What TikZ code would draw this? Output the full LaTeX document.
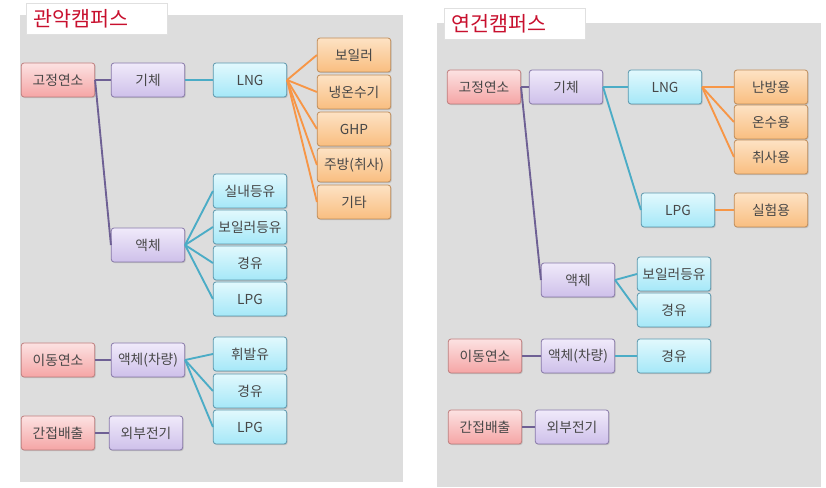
\documentclass[tikz,border=0pt]{standalone}
\usepackage{fontspec}
\setmainfont{Noto Sans CJK KR}
\usepackage{tikz}
\usetikzlibrary{shadows}
\usetikzlibrary{shapes}

\definecolor{panelgray}{RGB}{221,221,221}
\definecolor{titlered}{RGB}{200,16,46}
\definecolor{redtop}{RGB}{252,226,226}
\definecolor{redbot}{RGB}{245,165,165}
\definecolor{redline}{RGB}{190,125,125}
\definecolor{purpletop}{RGB}{240,234,250}
\definecolor{purplebot}{RGB}{206,192,234}
\definecolor{purpleline}{RGB}{135,120,168}
\definecolor{bluetop}{RGB}{226,249,253}
\definecolor{bluebot}{RGB}{165,232,248}
\definecolor{blueline}{RGB}{90,150,172}
\definecolor{orangetop}{RGB}{253,226,196}
\definecolor{orangebot}{RGB}{249,190,128}
\definecolor{orangeline}{RGB}{190,140,90}
\definecolor{purplewire}{RGB}{110,96,148}
\definecolor{bluewire}{RGB}{75,172,198}
\definecolor{orangewire}{RGB}{247,150,70}

\tikzstyle{box}=[rectangle,rounded corners=2pt,draw,line width=0.6pt,minimum width=55pt,minimum height=25.5pt,inner sep=0pt,font=\fontsize{10.3}{12}\selectfont,text=black!72,drop shadow={opacity=0.3,shadow xshift=0.8pt,shadow yshift=-0.8pt}]
\tikzstyle{redbox}=[box,draw=redline,top color=redtop,bottom color=redbot]
\tikzstyle{purplebox}=[box,draw=purpleline,top color=purpletop,bottom color=purplebot]
\tikzstyle{bluebox}=[box,draw=blueline,top color=bluetop,bottom color=bluebot]
\tikzstyle{orangebox}=[box,draw=orangeline,top color=orangetop,bottom color=orangebot]
\tikzstyle{titlebox}=[rectangle,fill=white,draw=black!12,minimum height=23.5pt,text width=96pt,inner xsep=5pt,align=left,text=titlered,font=\fontsize{15.5}{17}\selectfont]
\tikzstyle{purpleedge} = [draw,line width=1.4pt,purplewire]
\tikzstyle{blueedge} = [draw,line width=1.4pt,bluewire]
\tikzstyle{orangeedge} = [draw,line width=1.4pt,orangewire]

\begin{document}
\begin{tikzpicture}[x=0.75pt,y=-0.75pt]

  \useasboundingbox (0,0) rectangle (826,488);

  % panels
  \fill[panelgray] (20,15) rectangle (403,482);
  \fill[panelgray] (437,23) rectangle (821,487);
  \node[titlebox] (Ktitle) at (97,18.5) {관악캠퍼스};
  \node[titlebox] (Ytitle) at (515,24) {연건캠퍼스};

  % left campus
  \foreach \x/\y/\name/\label in {58/80/Kfix/고정연소, 58/360/Kmob/이동연소, 58/433/Kind/간접배출}
          \node[redbox] (\name) at (\x,\y) {\label};

  \foreach \x/\y/\name/\label in {148/80/Kgas/기체, 148/245/Kliq/액체, 148/360/Kcar/액체(차량), 146/433/Kelec/외부전기}
          \node[purplebox] (\name) at (\x,\y) {\label};

  \foreach \x/\y/\name/\label in {250/80/Klng/LNG, 250/191/Kker/실내등유, 250/227/Kbker/보일러등유, 250/263/Kdie/경유, 250/299/Klpg/LPG, 250/354/Kgaso/휘발유, 250/391/Kcdie/경유, 250/427/Kclpg/LPG}
          \node[bluebox] (\name) at (\x,\y) {\label};

  \foreach \x/\y/\name/\label in {354/55/Kboil/보일러, 354/92/Kchil/냉온수기, 354/129/Kghp/GHP, 354/165/Kkit/주방(취사), 354/202/Ketc/기타}
          \node[orangebox] (\name) at (\x,\y) {\label};

  % right campus
  \foreach \x/\y/\name/\label in {484/87/Yfix/고정연소, 485/356/Ymob/이동연소, 485/427/Yind/간접배출}
          \node[redbox] (\name) at (\x,\y) {\label};

  \foreach \x/\y/\name/\label in {566/87/Ygas/기체, 578/280/Yliq/액체, 578/356/Ycar/액체(차량), 572/427/Yelec/외부전기}
          \node[purplebox] (\name) at (\x,\y) {\label};

  \foreach \x/\y/\name/\label in {665/87/Ylng/LNG, 678/210/Ylpg/LPG, 674/274/Ybker/보일러등유, 674/310/Ydie/경유, 674/356/Ycdie/경유}
          \node[bluebox] (\name) at (\x,\y) {\label};

  \foreach \x/\y/\name/\label in {771/87/Yheat/난방용, 771/122/Ywarm/온수용, 771/157/Ycook/취사용, 771/210/Ylab/실험용}
          \node[orangebox] (\name) at (\x,\y) {\label};

  % connectors
  \foreach \source/ \dest in {Kfix/Kgas, Kfix/Kliq, Kmob/Kcar, Kind/Kelec, Yfix/Ygas, Yfix/Yliq, Ymob/Ycar, Yind/Yelec}
         \path[purpleedge] (\source.east) -- (\dest.west);

  \foreach \source/ \dest in {Kgas/Klng, Kliq/Kker, Kliq/Kbker, Kliq/Kdie, Kliq/Klpg, Kcar/Kgaso, Kcar/Kcdie, Kcar/Kclpg, Ygas/Ylng, Ygas/Ylpg, Yliq/Ybker, Yliq/Ydie, Ycar/Ycdie}
         \path[blueedge] (\source.east) -- (\dest.west);

  \foreach \source/ \dest in {Klng/Kboil, Klng/Kchil, Klng/Kghp, Klng/Kkit, Klng/Ketc, Ylng/Yheat, Ylng/Ywarm, Ylng/Ycook, Ylpg/Ylab}
         \path[orangeedge] (\source.east) -- (\dest.west);

\end{tikzpicture}
\end{document}
